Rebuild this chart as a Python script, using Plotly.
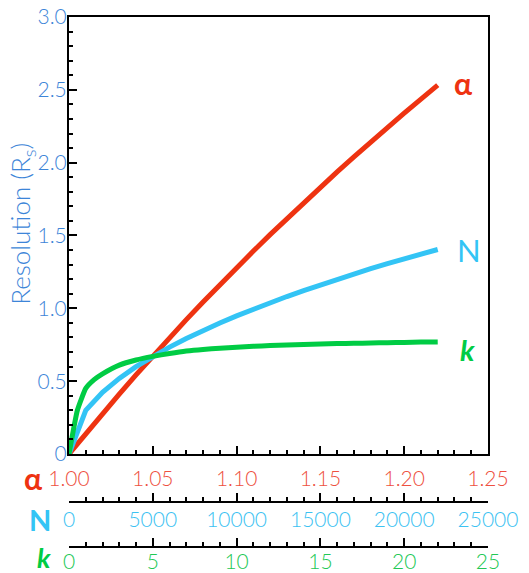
import plotly.graph_objects as go

# ---- data ----
alpha_vals = [1.00, 1.01, 1.02, 1.03, 1.04, 1.05, 1.06, 1.07, 1.08, 1.09, 1.10, 1.11,
              1.12, 1.13, 1.14, 1.15, 1.16, 1.17, 1.18, 1.19, 1.20, 1.21, 1.22]
rs_alpha = [0.000, 0.140, 0.277, 0.411, 0.543, 0.672, 0.798, 0.922, 1.043, 1.162, 1.279, 1.393,
            1.506, 1.616, 1.725, 1.832, 1.937, 2.040, 2.142, 2.242, 2.340, 2.436, 2.532]

n_vals = [0, 1000, 2000, 3000, 4000, 5000, 6000, 7000, 8000, 9000, 10000, 11000,
          12000, 13000, 14000, 15000, 16000, 17000, 18000, 19000, 20000, 21000, 22000]
rs_n = [0.000, 0.300, 0.424, 0.519, 0.600, 0.670, 0.734, 0.793, 0.848, 0.899, 0.948, 0.994,
        1.038, 1.081, 1.122, 1.161, 1.199, 1.236, 1.272, 1.307, 1.341, 1.374, 1.404]

k_vals = [0, 0.5, 1, 1.5, 2, 3, 4, 5, 6, 7, 8, 9, 10, 11, 12, 13, 14, 15, 16, 17, 18, 19, 20, 21, 22]
rs_k = [0.000, 0.300, 0.450, 0.510, 0.550, 0.610, 0.645, 0.670, 0.690, 0.707, 0.718, 0.726,
        0.733, 0.739, 0.744, 0.748, 0.752, 0.755, 0.758, 0.760, 0.762, 0.764, 0.766, 0.768, 0.769]

y_ticks = [0, 0.5, 1.0, 1.5, 2.0, 2.5, 3.0]
y_ticktext = ["0", "0.5", "1.0", "1.5", "2.0", "2.5", "3.0"]
a_ticks = [1.00, 1.05, 1.10, 1.15, 1.20, 1.25]
a_ticktext = ["1.00", "1.05", "1.10", "1.15", "1.20", "1.25"]
n_ticks = [0, 5000, 10000, 15000, 20000, 25000]
n_ticktext = ["0", "5000", "10000", "15000", "20000", "25000"]
k_ticks = [0, 5, 10, 15, 20, 25]
k_ticktext = ["0", "5", "10", "15", "20", "25"]

RED = "#ee3311"
BLUE = "#33c4f5"
GREEN = "#00cc44"
YBLUE = "#3d85d8"
RED_LBL = "#ee5040"
BLUE_LBL = "#3cc2f2"
GREEN_LBL = "#22c855"
FONT = "Lato"

fig = go.Figure()
fig.add_trace(go.Scatter(x=alpha_vals, y=rs_alpha, mode="lines",
                         line=dict(color=RED, width=5), xaxis="x", yaxis="y"))
fig.add_trace(go.Scatter(x=n_vals, y=rs_n, mode="lines",
                         line=dict(color=BLUE, width=5), xaxis="x2", yaxis="y"))
fig.add_trace(go.Scatter(x=k_vals, y=rs_k, mode="lines",
                         line=dict(color=GREEN, width=5, shape="spline", smoothing=0.4),
                         xaxis="x3", yaxis="y"))

common = dict(showline=True, linewidth=2, linecolor="black", ticks="inside",
              ticklen=8, tickwidth=2, tickcolor="black", showgrid=False,
              zeroline=False, automargin=False)

fig.update_layout(
    width=529, height=573,
    margin=dict(l=69, r=41, t=17, b=26, autoexpand=False),
    paper_bgcolor="white", plot_bgcolor="white",
    showlegend=False,
    font=dict(family=FONT),
    xaxis=dict(range=[1.0, 1.25], tickvals=a_ticks, ticktext=a_ticktext,
               tickfont=dict(color=RED_LBL, size=21, family=FONT, weight=300),
               mirror=True, anchor="y", ticklabelstandoff=5,
               minor=dict(ticks="inside", dtick=0.01, tick0=1.0, ticklen=4,
                          tickwidth=2, tickcolor="black"),
               **common),
    xaxis2=dict(range=[0, 25000], tickvals=n_ticks, ticktext=n_ticktext,
                tickfont=dict(color=BLUE_LBL, size=21, family=FONT, weight=300),
                overlaying="x", anchor="free", position=0.0855, side="bottom",
                ticklabelstandoff=-1,
                minor=dict(ticks="inside", dtick=1000, tick0=0, ticklen=4,
                           tickwidth=2, tickcolor="black"),
                **common),
    xaxis3=dict(range=[0, 25], tickvals=k_ticks, ticktext=k_ticktext,
                tickfont=dict(color=GREEN_LBL, size=21, family=FONT, weight=300),
                overlaying="x", anchor="free", position=0.0, side="bottom",
                ticklabelstandoff=-4,
                minor=dict(ticks="inside", dtick=1, tick0=0, ticklen=4,
                           tickwidth=2, tickcolor="black"),
                **common),
    yaxis=dict(range=[0, 3], domain=[0.1755, 1], tickvals=y_ticks, ticktext=y_ticktext,
               tickfont=dict(color=YBLUE, size=21, family=FONT, weight=300),
               mirror=True, ticklabelstandoff=-4,
               minor=dict(ticks="inside", dtick=0.1, tick0=0, ticklen=4,
                          tickwidth=2, tickcolor="black"),
               **common),
)

ann = [
    dict(text="<b>α</b>", x=0.940, y=0.8755, color=RED, size=30),
    dict(text="N", x=0.955, y=0.560, color=BLUE, size=31),
    dict(text="<b><i>k</i></b>", x=0.950, y=0.3717, color=GREEN, size=29),
    dict(text="<b>α</b>", x=-0.0859, y=0.130, color=RED, size=30),
    dict(text="<b>N</b>", x=-0.0692, y=0.0528, color=BLUE, size=29),
    dict(text="<b><i>k</i></b>", x=-0.0597, y=-0.0190, color=GREEN, size=27),
]
for a in ann:
    fig.add_annotation(text=a["text"], x=a["x"], y=a["y"], xref="paper", yref="paper",
                       showarrow=False, xanchor="center", yanchor="middle",
                       font=dict(color=a["color"], size=a["size"], family=FONT))

# y-axis title as rotated text
fig.add_annotation(text="Resolution (R<sub>s</sub>)", x=-0.112, y=0.610,
                   xref="paper", yref="paper", showarrow=False, textangle=-90,
                   xanchor="center", yanchor="middle",
                   font=dict(color=YBLUE, size=26, family=FONT, weight=300))

fig.write_html("out.html", config={"displayModeBar": False},
               post_script="document.body.style.margin='0';document.body.style.padding='0';")
